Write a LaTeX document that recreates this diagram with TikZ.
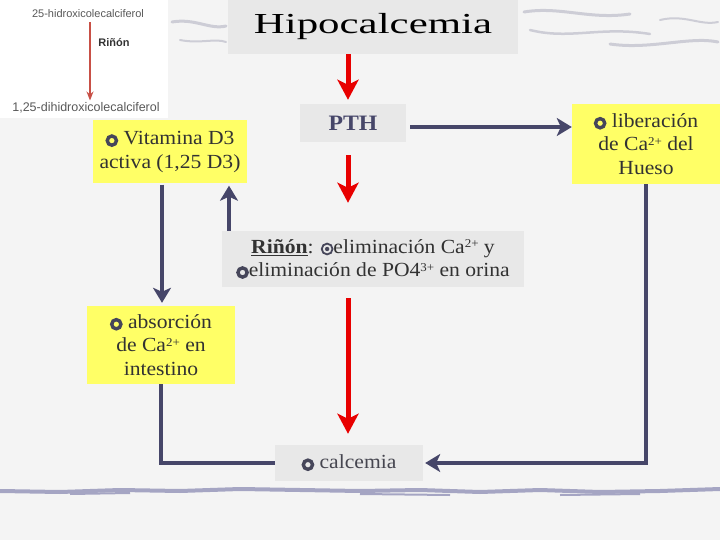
\documentclass[tikz,border=0pt]{standalone}
\usepackage{fontspec}
\setmainfont{Liberation Serif}[FakeStretch=1.08]
\newfontfamily\titlefont{Liberation Serif}[FakeStretch=1.48]
\newfontfamily\imgfont{Liberation Sans}
\usetikzlibrary{arrows.meta}
\definecolor{bg}{RGB}{244,244,244}
\definecolor{boxgray}{RGB}{232,232,232}
\definecolor{ylw}{RGB}{255,255,102}
\definecolor{navy}{RGB}{70,70,105}
\definecolor{redar}{RGB}{232,0,0}
\definecolor{bulc}{RGB}{70,70,90}
\definecolor{txt}{RGB}{50,50,50}
\definecolor{deco}{RGB}{165,165,195}
\definecolor{decol}{RGB}{205,205,214}
\newcommand{\ringb}{\tikz[x=1cm,y=1cm,baseline=-0.45ex]\draw[bulc,line width=3.4pt] (0,0) circle (4.6pt);}
\newcommand{\dotb}{\tikz[x=1cm,y=1cm,baseline=-0.45ex]{\draw[bulc,line width=1.8pt] (0,0) circle (5.4pt); \fill[bulc] (0,0) circle (2.2pt);}}
\newcommand{\sups}[1]{\raisebox{0.6ex}{\fontsize{12}{12}\selectfont #1}}
\begin{document}
\begin{tikzpicture}[x=1pt,y=-1pt,
  box/.style={inner sep=0pt, align=center, text=txt, font=\fontsize{20}{23.5}\selectfont},
  ybox/.style={box, fill=ylw},
  gbox/.style={box, fill=boxgray},
  redarr/.style={draw=redar, line width=5pt, -{Stealth[width=21pt,length=20pt,inset=5pt]}},
  navarr/.style={draw=navy, line width=4.5pt, -{Stealth[width=18pt,length=15pt,inset=4pt]}},
  navline/.style={draw=navy, line width=4.5pt},
  imgtxt/.style={inner sep=0pt, text=black!65}]
\fill[bg] (0,0) rectangle (720,540);
\useasboundingbox (0,0) rectangle (720,540);
% decorative strokes
\draw[decol, line width=3pt, line cap=round] (172,22) .. controls (195,18) and (210,30) .. (226,26);
\draw[decol, line width=2pt, line cap=round] (180,40) .. controls (200,44) and (215,38) .. (226,42);
\draw[decol, line width=3pt, line cap=round] (524,12) .. controls (560,6) and (590,20) .. (630,14);
\draw[decol, line width=2.5pt, line cap=round] (530,30) .. controls (570,40) and (600,26) .. (650,34);
\draw[decol, line width=3pt, line cap=round] (610,44) .. controls (650,50) and (690,36) .. (718,42);
\draw[decol, line width=2pt, line cap=round] (660,20) .. controls (685,14) and (700,26) .. (718,22);
\draw[deco, line width=4pt] (0,491) -- (60,492) -- (120,490) -- (180,491) -- (240,489) -- (300,490) -- (360,491) -- (420,490) -- (480,492) -- (540,490) -- (600,492) -- (660,491) -- (720,489);
\draw[deco, line width=2pt] (70,494) -- (130,493) (360,494) -- (450,495) (560,495) -- (640,494);
% inset image
\fill[white] (0,0) rectangle (168,118);
\node[imgtxt, font=\imgfont\fontsize{11}{13}\selectfont] (img1) at (88,14) {25-hidroxicolecalciferol};
\node[imgtxt, text=black!80, font=\imgfont\bfseries\fontsize{11}{13}\selectfont] (img2) at (114,43) {Riñón};
\node[imgtxt, font=\imgfont\fontsize{12.5}{14}\selectfont] (img3) at (86,108) {1,25-dihidroxicolecalciferol};
\coordinate (ix) at (90,0);
\draw[draw={rgb,255:red,200;green,80;blue,70}, line width=1.6pt, -{Stealth[width=7pt,length=9pt]}, shorten <=4pt, shorten >=2pt] (img1.south -| ix) -- (img3.north -| ix);
% boxes
\node[gbox, minimum width=290pt, minimum height=54pt, font=\titlefont\fontsize{29}{34}\selectfont, text=black] (title) at (373,27) {Hipocalcemia};
\node[gbox, minimum width=106pt, minimum height=38pt, font=\bfseries\fontsize{22}{26}\selectfont, text=navy] (pth) at (353,123) {PTH};
\node[ybox, minimum width=154pt, minimum height=63pt] (vit) at (170,152) {\ringb\ Vitamina D3\\activa (1,25 D3)};
\node[ybox, minimum width=148pt, minimum height=80pt] (lib) at (646,144) {\ringb\ liberación\\de Ca\sups{2+} del\\Hueso};
\node[gbox, minimum width=302pt, minimum height=56pt] (rin) at (373,259) {\underline{\textbf{Riñón}}: \dotb eliminación Ca\sups{2+} y\\\ringb eliminación de PO4\sups{3+} en orina};
\node[ybox, minimum width=148pt, minimum height=78pt] (abs) at (161,345) {\ringb\ absorción\\de Ca\sups{2+} en\\intestino};
\node[gbox, minimum width=148pt, minimum height=36pt, text={rgb,255:red,70;green,70;blue,80}] (cal) at (349,463) {\ringb\ calcemia};
% connectors
\coordinate (ax) at (348,0);
\coordinate (vx) at (162,0);
\coordinate (ux) at (229,0);
\coordinate (hy) at (0,127);
\path[redarr, shorten >=4pt] (title.south -| ax) -- (pth.north -| ax);
\path[redarr, shorten <=13pt, shorten >=28pt] (pth.south -| ax) -- (rin.north -| ax);
\path[redarr, shorten <=11pt, shorten >=11pt] (rin.south -| ax) -- (cal.north -| ax);
\path[navarr, shorten <=4pt] (pth.east |- hy) -- (lib.west |- hy);
\path[navarr, shorten <=1pt, shorten >=3pt] (vit.south -| vx) -- (abs.north -| vx);
\path[navarr, shorten >=2pt] (rin.north -| ux) -- (vit.south -| ux);
\path[navline] (abs.south) |- (cal.west);
\path[navarr, shorten >=2pt] (lib.south) |- (cal.east);
\end{tikzpicture}
\end{document}
